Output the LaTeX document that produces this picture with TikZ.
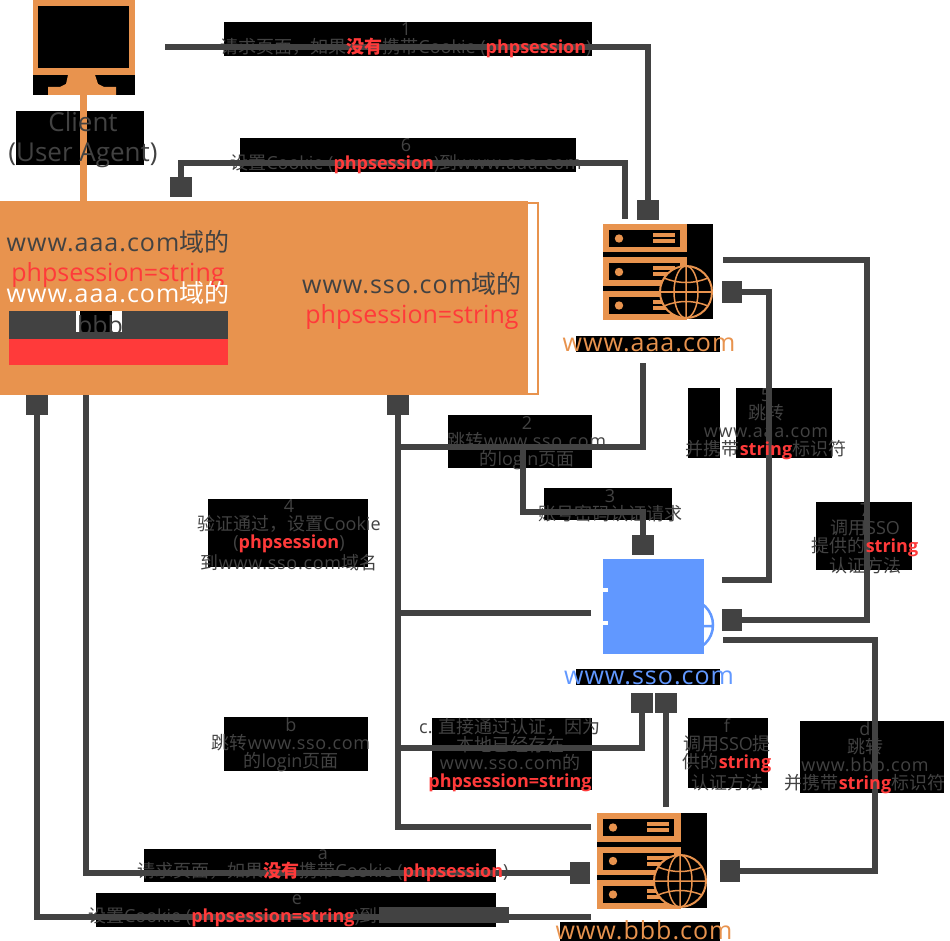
\documentclass[tikz,border=0pt]{standalone}
\usepackage{fontspec}
\setmainfont{Open Sans}
\newfontfamily\zhfont{Noto Sans CJK SC}
\usetikzlibrary{arrows.meta}
\definecolor{panelorange}{HTML}{E8934E}
\definecolor{ssoblue}{HTML}{6198FF}
\definecolor{hotred}{HTML}{FF3A3A}
\definecolor{linegray}{HTML}{424242}
\newcommand{\zh}[1]{{\zhfont #1}}
\newcommand{\www}[1]{{\addfontfeature{LetterSpace=4}#1}}
\newcommand{\hot}[1]{\textcolor{hotred}{\bfseries #1}}
\tikzset{
  conn/.style={draw=linegray,line width=6pt},
  sq/.style={-{Square[length=20pt,width=22pt]}},
  lab/.style={text=linegray,align=center,inner sep=0pt,font=\fontsize{18}{18}\selectfont},
  biglab/.style={inner sep=0pt,align=center,font=\fontsize{25}{30}\selectfont},
  serverpic/.pic={
    \fill[black] (0,0) rectangle (110,95);
    \foreach \yy in {0,33.5,67} {
      \fill[panelorange] (0,\yy) rectangle (84,\yy+28.5);
      \fill[black] (6,\yy+6) rectangle (77,\yy+23);
      \fill[panelorange] (16,\yy+14.5) circle (4.2);
      \fill[panelorange] (50,\yy+9) rectangle (72,\yy+13);
      \fill[panelorange] (50,\yy+15) rectangle (72,\yy+19);
    }
    \filldraw[draw=panelorange,fill=black,line width=2pt] (83,68) circle (26);
    \draw[panelorange,line width=1.5pt] (83,68) ellipse (12 and 26)
      (83,42) -- (83,94) (57,68) -- (109,68)
      (61,54) .. controls (75,60) and (91,60) .. (105,54)
      (61,82) .. controls (75,76) and (91,76) .. (105,82);
  }
}
\begin{document}
\begin{tikzpicture}[x=1pt,y=-1pt]
\useasboundingbox (0,0) rectangle (950,941);
\fill[white] (0,0) rectangle (950,941);

% black backings behind the labels
\foreach \xa/\ya/\xb/\yb in {224/22/592/56,240/138/576/172,16/111/144/165,
    448/415/592/468,544/488/672/520,208/499/368/567,688/388/720/458,736/388/832/458,
    816/502/912/570,224/717/368/771,432/718/592/790,688/718/768/788,800/721/944/793,
    144/849/496/882,96/893/496/927,576/336/720/352,576/669/720/685,560/922/720/941} {
  \fill[black] (\xa,\ya) rectangle (\xb,\yb);
}

% client monitor
\fill[black] (33,75) rectangle (135,95);
\fill[panelorange] (33,0) rectangle (135,75);
\fill[black] (38,6) rectangle (129,68);
\fill[panelorange] (68,75) -- (66,84) -- (60,87) -- (48,87) -- (48,95) -- (116,95)
  -- (116,87) -- (104,87) -- (98,84) -- (95,75) -- cycle;

% browser panel
\node (panel) [fill=panelorange,inner sep=0pt,minimum width=528pt,minimum height=194pt,anchor=north west] at (0,201) {};
\draw[panelorange,line width=2pt] (528,203) -- (538,203) -- (538,394) -- (528,394);
\fill[linegray] (9,311) rectangle (228,340);
\fill[hotred] (9,339) rectangle (228,365);
\fill[white] (76,311) rectangle (122,332);
\fill[black] (80,311) rectangle (112,332);

\coordinate (clientFoot) at (83,95);
\draw[panelorange,line width=7pt] (clientFoot) -- (panel.north -| clientFoot);

% servers
\pic at (603,224) {serverpic};
\pic at (597,813) {serverpic};
\draw[ssoblue,line width=2.5pt] (687,625) circle (26) (687,626) -- (713,626);
\fill[ssoblue] (603,559) rectangle (704,654);
\foreach \yy in {590,623} {
  \fill[white] (603,\yy-2) rectangle (608,\yy+2);
}

% connector ends
\coordinate (reqFrom) at (165,47);
\coordinate (reqTo) at (648,220);
\coordinate (setFrom) at (625,219);
\coordinate (setBend) at (181,163);
\coordinate (setTo) at (181,197);
\coordinate (jumpFrom) at (643,363);
\coordinate (jumpTo) at (398,447);
\coordinate (formFrom) at (523,447);
\coordinate (formBend) at (643,512);
\coordinate (formTo) at (643,555);
\coordinate (panelTo) at (398,395);
\coordinate (ssoLeft) at (591,613);
\coordinate (bbbLeft) at (591,827);
\coordinate (bbbBend) at (398,827);
\coordinate (passFrom) at (395,748);
\coordinate (passTo) at (642,693);
\coordinate (backFrom) at (722,580);
\coordinate (backBend) at (769,292);
\coordinate (backTo) at (722,292);
\coordinate (callFrom) at (723,260);
\coordinate (callBend) at (867,620);
\coordinate (callTo) at (722,620);
\coordinate (fTo) at (666,693);
\coordinate (fFrom) at (666,807);
\coordinate (dFrom) at (723,640);
\coordinate (dBend) at (875,871);
\coordinate (dTo) at (720,871);
\coordinate (aFrom) at (86,395);
\coordinate (aTo) at (590,873);
\coordinate (eFrom) at (591,917);
\coordinate (eBend) at (37,917);
\coordinate (eTo) at (37,395);

\draw[conn,sq] (reqFrom) -| (reqTo);
\draw[conn,sq] (setFrom) |- (setBend) -- (setTo);
\draw[conn] (jumpFrom) |- (jumpTo);
\draw[conn,sq] (formFrom) |- (formBend) -- (formTo);
\draw[conn] (ssoLeft) -- (ssoLeft -| panelTo);
\draw[conn,sq] (bbbLeft) -- (bbbBend) -- (panelTo);
\draw[conn,sq] (passFrom) -| (passTo);
\draw[conn,sq] (backFrom) -| (backBend) -- (backTo);
\draw[conn,sq] (callFrom) -| (callBend) -- (callTo);
\draw[conn,sq] (fFrom) -- (fTo);
\draw[conn,sq] (dFrom) -| (dBend) -- (dTo);
\draw[conn,sq] (aFrom) |- (aTo);
\draw[conn,sq] (eFrom) -- (eBend) -- (eTo);
\fill[linegray] (379,907) rectangle (509,923);

% labels
\node (clientLab) [biglab,text=linegray,font=\fontsize{26}{30}\selectfont] at (83,140) {Client\\(User Agent)};
\node (aaaCookie) [biglab,text=linegray] at (118,259) {\www{www.aaa.com}\zh{域的}\\\textcolor{hotred}{phpsession=string}};
\node (bbbCookie) [biglab,text=white] at (118,293) {\www{www.aaa.com}\zh{域的}};
\node (bbbName) [biglab,text=linegray] at (100,325) {bbb};
\node (ssoCookie) [biglab,text=linegray] at (412,301) {\www{www.sso.com}\zh{域的}\\\textcolor{hotred}{phpsession=string}};
\node (aaaName) [biglab,text=panelorange] at (649,345) {\www{www.aaa.com}};
\node (ssoName) [biglab,text=ssoblue] at (649,678) {\www{www.sso.com}};
\node (bbbSite) [biglab,text=panelorange] at (644,930) {\www{www.bbb.com}};

\node (lab1) [lab] at (406,40) {1\\\zh{请求页面，如果}\hot{\zh{没有}}\zh{携带}Cookie (\hot{phpsession})};
\node (lab6) [lab] at (406,156) {6\\\zh{设置}Cookie (\hot{phpsession})\zh{到}\www{www.aaa.com}};
\node (lab2) [lab] at (527,443) {2\\\zh{跳转}\www{www.sso.com}\\\zh{的}login\zh{页面}};
\node (lab3) [lab] at (610,506) {3\\\zh{账号密码认证请求}};
\node (lab4) [lab] at (289,535) {4\\\zh{验证通过，设置}Cookie\\(\hot{phpsession})\\\zh{到}\www{www.sso.com}\zh{域名}};
\node (lab5) [lab] at (766,424) {5\\\zh{跳转}\\\www{www.aaa.com}\\\zh{并携带}\hot{string}\zh{标识符}};
\node (lab7) [lab] at (865,539) {7\\\zh{调用}SSO\\\zh{提供的}\hot{string}\\\zh{认证方法}};
\node (labb) [lab] at (291,745) {b\\\zh{跳转}\www{www.sso.com}\\\zh{的}login\zh{页面}};
\node (labc) [lab] at (510,755) {c. \zh{直接通过认证，因为}\\\zh{本地已经存在}\\\www{www.sso.com}\zh{的}\\\hot{phpsession=string}};
\node (labf) [lab] at (727,755) {f\\\zh{调用}SSO\zh{提}\\\zh{供的}\hot{string}\\\zh{认证方法}};
\node (labd) [lab] at (865,758) {d\\\zh{跳转}\\\www{www.bbb.com}\\\zh{并携带}\hot{string}\zh{标识符}};
\node (laba) [lab] at (323,866) {a\\\zh{请求页面，如果}\hot{\zh{没有}}\zh{携带}Cookie (\hot{phpsession})};
\node (labe) [lab] at (297,900) {e};
\node (labeText) [lab] at (233,917) {\zh{设置}Cookie (\hot{phpsession=string})\zh{到}};
\end{tikzpicture}
\end{document}
